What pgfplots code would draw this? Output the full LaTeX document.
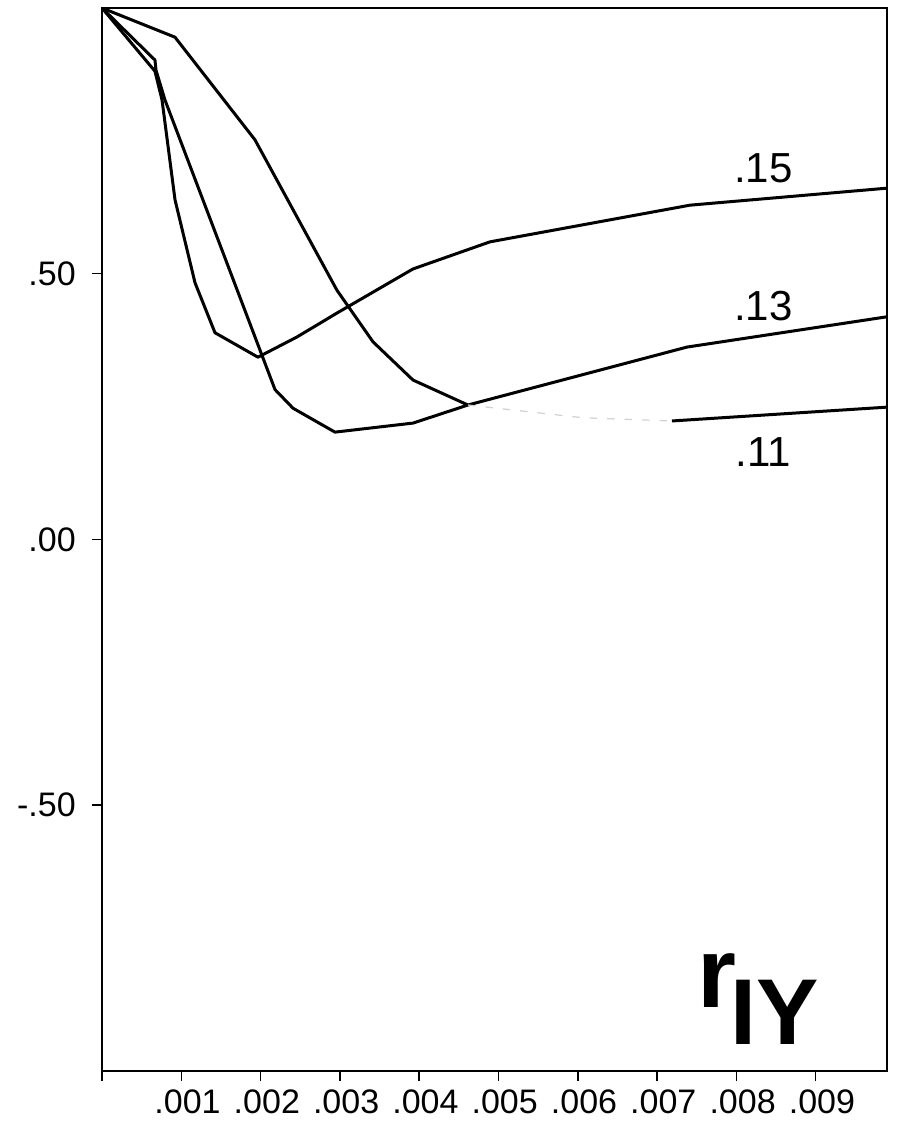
\documentclass[border=0pt]{standalone}
\usepackage{pgfplots}
\pgfplotsset{compat=1.18}
\usepackage{fontspec}
\setmainfont{Liberation Sans}

% correlation r_IY against the step size, one curve per setting
\pgfplotstableread{
x        y
0        1.000
0.000668 0.881
0.000757 0.827
0.000921 0.639
0.001173 0.483
0.001425 0.389
0.001967 0.343
0.002459 0.381
0.002963 0.426
0.003922 0.509
0.004893 0.560
0.007415 0.629
0.009899 0.661
}\curveA

\pgfplotstableread{
x        y
0        1.000
0.000668 0.902
0.000681 0.883
0.000794 0.827
0.002182 0.282
0.002409 0.247
0.002938 0.202
0.003922 0.219
0.004615 0.253
0.007377 0.362
0.009899 0.419
}\curveB

\pgfplotstableread{
x        y
0        1.000
0.000921 0.945
0.001929 0.752
0.002963 0.469
0.003417 0.372
0.003922 0.300
0.004615 0.253
}\curveCa

\pgfplotstableread{
x        y
0.004615 0.253
0.006066 0.229
0.007188 0.223
}\curveCb

\pgfplotstableread{
x        y
0.007188 0.223
0.009899 0.249
}\curveCc

\begin{document}
\begin{tikzpicture}
\path[use as bounding box] (-40.8pt,-20.8pt) rectangle (318pt,428.4pt);
\begin{axis}[
  at={(0,0)}, anchor=south west,
  scale only axis, width=314pt, height=425.2pt,
  xmin=0, xmax=0.0099, ymin=-1, ymax=1,
  axis line style={line width=0.6pt},
  tick style={line width=0.6pt, black},
  tick align=outside, major tick length=4pt,
  xtick pos=bottom, ytick pos=left,
  xtick={0,0.001,0.002,0.003,0.004,0.005,0.006,0.007,0.008,0.009},
  xticklabels={,.001,.002,.003,.004,.005,.006,.007,.008,.009},
  ytick={-0.5,0,0.5},
  yticklabels={-.50,.00,.50},
  scaled x ticks=false,
  tick label style={font=\fontsize{13.6}{15}\selectfont},
  xticklabel style={xshift=2.5pt},
  yticklabel style={xshift=-3pt},
  /pgf/number format/assume math mode=true,
]
\addplot[black, no markers, line width=1.2pt, line join=round] table {\curveA};
\addplot[black, no markers, line width=1.2pt, line join=round] table {\curveB};
\addplot[black, no markers, line width=1.2pt, line join=round] table {\curveCa};
\addplot[gray!35, no markers, line width=0.5pt, dash pattern=on 3pt off 4pt] table {\curveCb};
\addplot[black, no markers, line width=1.2pt, line join=round] table {\curveCc};

\node[font=\fontsize{16.8}{18}\selectfont] at (axis cs:0.00834,0.699) {.15};
\node[font=\fontsize{16.8}{18}\selectfont] at (axis cs:0.00834,0.439) {.13};
\node[font=\fontsize{16.8}{18}\selectfont] at (axis cs:0.00834,0.165) {.11};

\node[anchor=base west, inner sep=0pt, font=\fontsize{40}{40}\bfseries] at (axis cs:0.00750,-0.881) {r};
\node[anchor=base west, inner sep=0pt, font=\fontsize{37.4}{38}\bfseries] at (axis cs:0.00792,-0.951) {IY};
\end{axis}
\end{tikzpicture}
\end{document}
